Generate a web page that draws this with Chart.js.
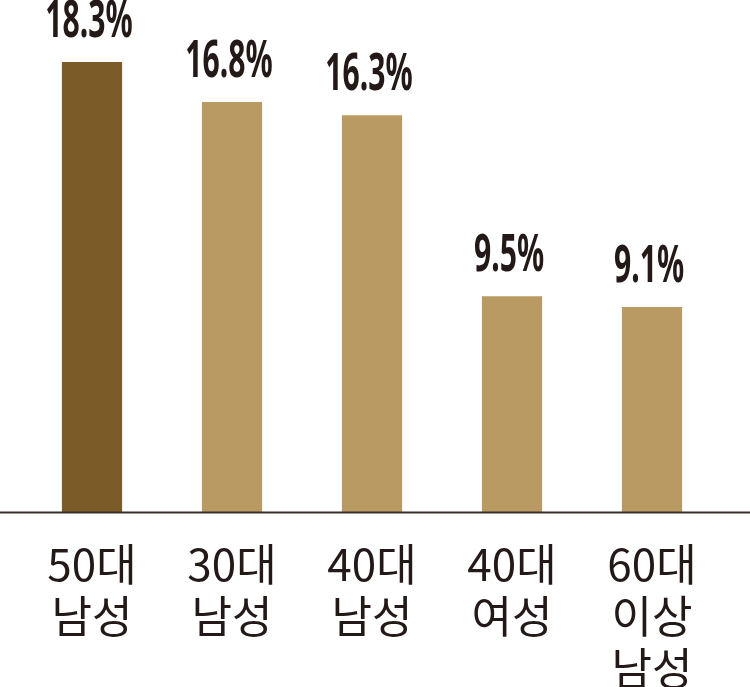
<!DOCTYPE html>
<html>
<head>
<meta charset="utf-8">
<script src="https://cdn.jsdelivr.net/npm/chart.js@4"></script>
<style>
  html, body { margin: 0; padding: 0; background: #fff; }
  #wrap { width: 750px; height: 687px; }
</style>
</head>
<body>
<div id="wrap"><canvas id="myChart"></canvas></div>
<script>
const groups = [["50대", "남성"], ["30대", "남성"], ["40대", "남성"], ["40대", "여성"], ["60대", "이상", "남성"]];
const shares = [18.3, 16.8, 16.3, 9.5, 9.1];
const barColors = ["#7b5c28", "#b89a62", "#b89a62", "#b89a62", "#b89a62"];

const textColor = "#231916";

// 막대 위 값 표시 (글꼴을 가로로 눌러서 좁게)
const valueLabels = {
    id: "valueLabels",
    afterDatasetsDraw(chart) {
        const ctx = chart.ctx;
        const meta = chart.getDatasetMeta(0);
        ctx.save();
        ctx.fillStyle = textColor;
        ctx.font = "bold 52px 'Noto Sans', sans-serif";
        ctx.textAlign = "center";
        ctx.textBaseline = "alphabetic";
        meta.data.forEach((bar, i) => {
            ctx.save();
            ctx.translate(bar.x - 3, bar.y - 25);
            ctx.scale(0.58, 1);
            ctx.fillText(shares[i].toFixed(1) + "%", 0, 0);
            ctx.restore();
        });
        ctx.restore();
    }
};

// 바닥선: 캔버스 전체 폭
const baseLine = {
    id: "baseLine",
    afterDatasetsDraw(chart) {
        const ctx = chart.ctx;
        const y = chart.chartArea.bottom + 0.5;
        ctx.save();
        ctx.strokeStyle = "#3a2f2c";
        ctx.lineWidth = 2;
        ctx.beginPath();
        ctx.moveTo(0, y);
        ctx.lineTo(chart.width, y);
        ctx.stroke();
        ctx.restore();
    }
};

const ctx = document.getElementById("myChart").getContext("2d");
const myChart = new Chart(ctx, {
    type: "bar",
    data: {
        labels: groups,
        datasets: [{
            data: shares,
            backgroundColor: barColors,
            borderWidth: 0,
            barPercentage: 0.43,
            categoryPercentage: 1
        }]
    },
    options: {
        responsive: true,
        maintainAspectRatio: false,
        animation: false,
        layout: { padding: { top: 62, left: 22, right: 28, bottom: 0 } },
        plugins: {
            legend: { display: false },
            tooltip: { enabled: false }
        },
        scales: {
            x: {
                grid: { display: false },
                border: { display: false },
                ticks: {
                    color: textColor,
                    font: { family: "'Noto Sans CJK KR', sans-serif", size: 44, lineHeight: 1.18 },
                    padding: 18,
                    maxRotation: 0,
                    autoSkip: false
                },
                afterFit(scale) { scale.height = 175; }
            },
            y: {
                display: false,
                min: 1.4,
                max: 18.3
            }
        }
    },
    plugins: [valueLabels, baseLine]
});
</script>
</body>
</html>
